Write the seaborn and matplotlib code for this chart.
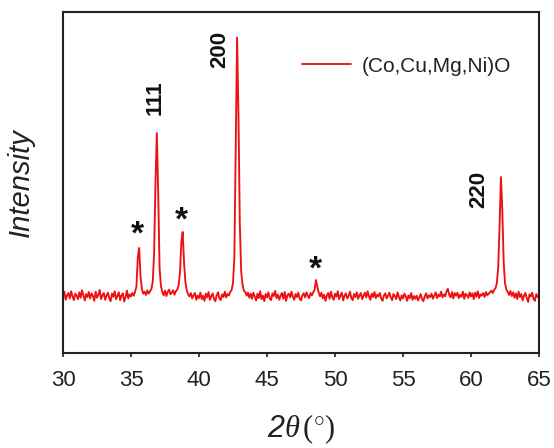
import numpy as np
import pandas as pd
import matplotlib
matplotlib.use("Agg")
import matplotlib.pyplot as plt
import seaborn as sns

# ---- data (0.1 deg steps from 30.0 to 65.0) ----
intensity_rows = [
    [16.5, 18.0, 15.6, 16.9, 17.6, 16.0, 18.1, 16.6, 15.5, 17.4],  # 30
    [16.8, 15.8, 17.8, 16.2, 18.4, 16.9, 15.4, 17.3, 16.4, 17.9],  # 31
    [16.0, 17.5, 16.7, 15.3, 18.0, 16.2, 17.1, 18.5, 15.8, 16.9],  # 32
    [17.6, 15.6, 16.8, 17.7, 16.1, 15.2, 17.4, 16.5, 18.1, 15.8],  # 33
    [16.7, 17.8, 15.5, 16.9, 17.5, 15.1, 16.4, 18.3, 16.0, 17.2],  # 34
    [16.6, 17.6, 16.8, 18.0, 19.5, 28.0, 30.8, 22.5, 18.8, 17.4],  # 35
    [18.0, 17.0, 18.4, 17.4, 18.1, 18.8, 21.0, 29.5, 50.0, 64.5],  # 36
    [47.0, 25.0, 19.6, 18.0, 16.9, 18.3, 16.7, 17.9, 18.6, 17.2],  # 37
    [17.7, 18.4, 17.1, 18.1, 18.6, 19.8, 23.5, 32.5, 35.5, 26.5],  # 38
    [20.8, 18.4, 17.2, 16.6, 17.6, 16.0, 16.9, 17.6, 15.6, 16.8],  # 39
    [16.1, 17.7, 15.8, 16.8, 15.3, 17.4, 16.3, 17.9, 15.6, 16.6],  # 40
    [17.5, 15.9, 15.2, 16.9, 17.8, 16.0, 15.5, 17.2, 16.4, 18.0],  # 41
    [16.3, 17.3, 16.9, 17.9, 18.5, 20.5, 28.0, 60.0, 92.5, 70.0],  # 42
    [38.0, 24.0, 20.0, 18.3, 17.9, 16.8, 17.7, 16.2, 17.4, 15.9],  # 43
    [17.7, 16.5, 15.4, 17.4, 16.1, 18.1, 15.8, 16.8, 15.2, 17.3],  # 44
    [16.3, 17.8, 16.0, 15.5, 17.5, 16.7, 18.2, 16.1, 17.1, 15.6],  # 45
    [16.8, 17.6, 15.9, 17.9, 15.3, 16.9, 17.4, 16.3, 18.0, 16.5],  # 46
    [15.6, 17.3, 16.4, 17.7, 16.0, 15.4, 16.9, 17.5, 16.3, 17.8],  # 47
    [16.8, 16.1, 17.6, 16.9, 17.8, 18.6, 21.4, 19.4, 17.8, 16.6],  # 48
    [17.7, 16.0, 17.1, 15.3, 16.8, 17.6, 15.9, 18.0, 16.4, 15.6],  # 49
    [17.4, 16.5, 18.1, 15.8, 16.9, 17.7, 15.4, 16.8, 17.5, 16.0],  # 50
    [16.7, 18.0, 16.1, 15.5, 17.3, 16.4, 17.8, 15.9, 16.9, 17.6],  # 51
    [15.8, 16.8, 17.7, 16.3, 18.1, 16.6, 15.6, 17.4, 16.4, 17.9],  # 52
    [16.1, 17.1, 16.6, 17.6, 15.9, 15.3, 16.9, 17.5, 16.0, 16.8],  # 53
    [17.7, 16.3, 15.5, 17.3, 16.7, 15.8, 17.8, 16.4, 15.4, 16.9],  # 54
    [16.0, 17.4, 16.6, 15.3, 16.9, 16.1, 17.6, 15.6, 16.7, 15.9],  # 55
    [16.8, 15.4, 16.3, 17.3, 15.8, 15.2, 16.6, 17.5, 16.0, 16.9],  # 56
    [16.4, 17.4, 15.9, 16.8, 17.8, 16.1, 17.1, 16.6, 18.0, 16.3],  # 57
    [17.2, 16.6, 18.1, 18.8, 17.0, 16.3, 17.9, 16.0, 17.6, 16.8],  # 58
    [17.7, 16.1, 17.1, 16.5, 18.0, 15.9, 17.4, 16.9, 16.2, 17.8],  # 59
    [16.6, 17.5, 15.8, 17.7, 16.5, 18.1, 16.1, 17.2, 16.8, 17.6],  # 60
    [16.4, 17.9, 16.9, 17.4, 17.8, 18.3, 17.6, 18.5, 19.0, 20.5],  # 61
    [25.0, 37.0, 51.6, 42.0, 27.0, 20.5, 18.6, 17.9, 17.0, 18.2],  # 62
    [16.7, 17.8, 16.2, 17.5, 15.8, 18.0, 16.4, 17.3, 15.4, 16.8],  # 63
    [17.6, 16.1, 15.0, 17.2, 16.6, 17.7, 15.9, 15.3, 17.3, 16.4],  # 64
    [16.9],                                                        # 65
]
intensity = [v for row in intensity_rows for v in row]
two_theta = np.linspace(30.0, 65.0, len(intensity))

series_label = "(Co,Cu,Mg,Ni)O"
x_ticks = [30, 35, 40, 45, 50, 55, 60, 65]

peak_labels = ["111", "200", "220"]
peak_label_x = [36.76, 41.54, 60.6]
peak_label_y = [75.0, 89.0, 48.0]

star_x = [35.44, 38.68, 48.53]
star_y = [34.6, 38.7, 24.4]

# ---- plotting ----
sns.set_theme(style="white")
plt.rcParams["font.family"] = ["Liberation Sans", "DejaVu Sans"]
plt.rcParams["mathtext.fontset"] = "custom"
plt.rcParams["mathtext.rm"] = "Liberation Serif"
plt.rcParams["mathtext.it"] = "Liberation Serif:italic"
plt.rcParams["mathtext.sf"] = "Liberation Sans:italic"

df = pd.DataFrame({"two_theta": two_theta, "intensity": intensity})

fig = plt.figure(figsize=(5.54, 4.48), dpi=100)
ax = fig.add_axes([63 / 554, 95 / 448, 476 / 554, 341 / 448])

sns.lineplot(data=df, x="two_theta", y="intensity", color="#ee1111",
             linewidth=1.35, label=series_label, ax=ax, sort=False)

ax.set_xlim(30, 65)
ax.set_ylim(0, 100)
ax.set_xticks(x_ticks)
ax.set_yticks([])

for s in ax.spines.values():
    s.set_color("#222222")
    s.set_linewidth(1.5)

ax.tick_params(axis="x", bottom=True, direction="out", length=3, width=1.2,
               color="#222222", labelsize=16, labelcolor="#222222", pad=9)

ax.set_xlabel(r"$\mathsf{2}\theta\,(^{\circ})$", fontsize=22, color="#222222",
              labelpad=16)
ax.set_ylabel("Intensity", fontsize=21, style="italic", color="#222222")
ax.yaxis.set_label_coords(-0.06, 0.5)

for lbl, px, py in zip(peak_labels, peak_label_x, peak_label_y):
    ax.text(px, py, lbl, rotation=90, ha="center", va="center",
            fontsize=16, fontweight="bold", color="#111111")

for sx, sy in zip(star_x, star_y):
    ax.text(sx, sy, "*", ha="center", va="center", fontsize=24,
            fontweight="bold", color="#111111")

leg = ax.legend(loc="center left", bbox_to_anchor=((302 - 63) / 476, (353 - 66) / 341),
                frameon=False, fontsize=15, handlelength=2.35, handletextpad=0.5,
                borderaxespad=0, borderpad=0)
for t in leg.get_texts():
    t.set_color("#222222")

fig.savefig("out.png", dpi=100)
